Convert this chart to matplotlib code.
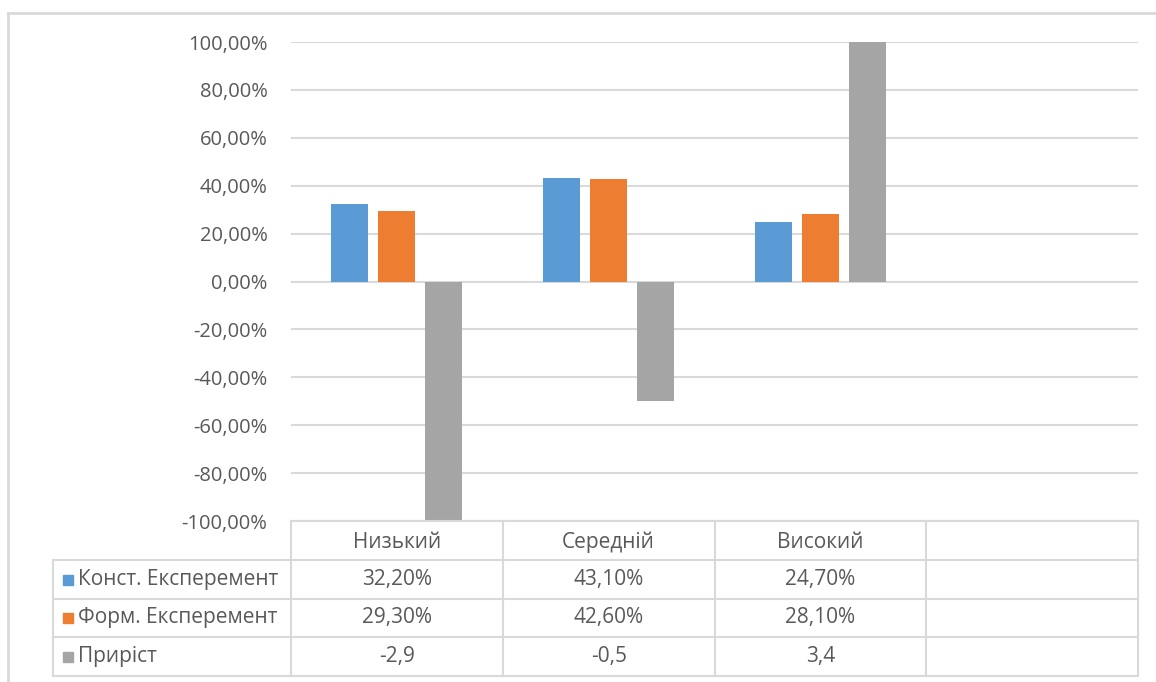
import numpy as np
import matplotlib.pyplot as plt
from matplotlib.transforms import blended_transform_factory

# дані
categories = ['Низький', 'Середній', 'Високий', '']
series_names = ['Конст. Експеремент', 'Форм. Експеремент', 'Приріст']
konst = [0.322, 0.431, 0.247]
form = [0.293, 0.426, 0.281]
pryrist = [-2.9, -0.5, 3.4]
table_text = [['32,20%', '43,10%', '24,70%', ''],
              ['29,30%', '42,60%', '28,10%', ''],
              ['-2,9', '-0,5', '3,4', '']]
colors = ['#5B9BD5', '#ED7D31', '#A5A5A5']
yticks = np.arange(-1.0, 1.01, 0.2)

plt.rcParams['font.family'] = ['Open Sans', 'DejaVu Sans']
txt_col = '#595959'
grid_col = '#D9D9D9'
fs = 15

W, H = 1156, 682
fig = plt.figure(figsize=(W / 100, H / 100), dpi=100)

# область графіка
ax = fig.add_axes([291 / W, 1 - 521 / H, (1138 - 291) / W, (521 - 42) / H])
x = np.arange(len(konst))
bw = 0.175
step = 0.222
for i, vals in enumerate([konst, form, pryrist]):
    ax.bar(x + (i - 1) * step, vals, width=bw, color=colors[i], zorder=3)

ax.set_xlim(-0.5, len(categories) - 0.5)
ax.set_ylim(-1, 1)
ax.set_yticks(yticks)
ax.set_yticklabels([('%.2f%%' % (v * 100)).replace('.', ',').replace('-0,00', '0,00') for v in yticks],
                   fontsize=fs - 0.5, color=txt_col)
ax.tick_params(axis='y', length=0, pad=17)
ax.set_xticks([])
for s in ax.spines.values():
    s.set_visible(False)
ax.grid(axis='y', color=grid_col, linewidth=1.5, zorder=0)

# таблиця даних під графіком
ov = fig.add_axes([0, 0, 1, 1], facecolor='none')
ov.set_xlim(0, W)
ov.set_ylim(H, 0)
ov.axis('off')
tr = blended_transform_factory(ax.transData, ov.transData)

rows_y = [521, 560, 599, 637, 676]
left_x = 53
lw = 1.5
# горизонтальні лінії
ov.plot([291, 1138], [rows_y[0], rows_y[0]], color=grid_col, lw=lw)
for yy in rows_y[1:]:
    ov.plot([left_x, 1138], [yy, yy], color=grid_col, lw=lw)
# вертикальні лінії
for b in np.arange(-0.5, len(categories), 1.0):
    ov.plot([b, b], [rows_y[0], rows_y[-1]], color=grid_col, lw=lw, transform=tr)
ov.plot([left_x, left_x], [rows_y[1], rows_y[-1]], color=grid_col, lw=lw)

# заголовки категорій
for j, c in enumerate(categories):
    ov.text(j, (rows_y[0] + rows_y[1]) / 2 + 2, c, transform=tr, ha='center', va='center',
            fontsize=fs, color=txt_col)

# рядки серій
for i, name in enumerate(series_names):
    yc = (rows_y[i + 1] + rows_y[i + 2]) / 2
    ov.add_patch(plt.Rectangle((63, yc - 5), 10, 10, color=colors[i]))
    ov.text(78, yc, name, ha='left', va='center', fontsize=fs, color=txt_col)
    for j, t in enumerate(table_text[i]):
        ov.text(j, yc, t, transform=tr, ha='center', va='center', fontsize=fs, color=txt_col)

# рамка
ov.plot([8, W], [13, 13], color=grid_col, lw=2)
ov.plot([8, 8], [13, H], color=grid_col, lw=2)

fig.savefig('out.png', dpi=100)
